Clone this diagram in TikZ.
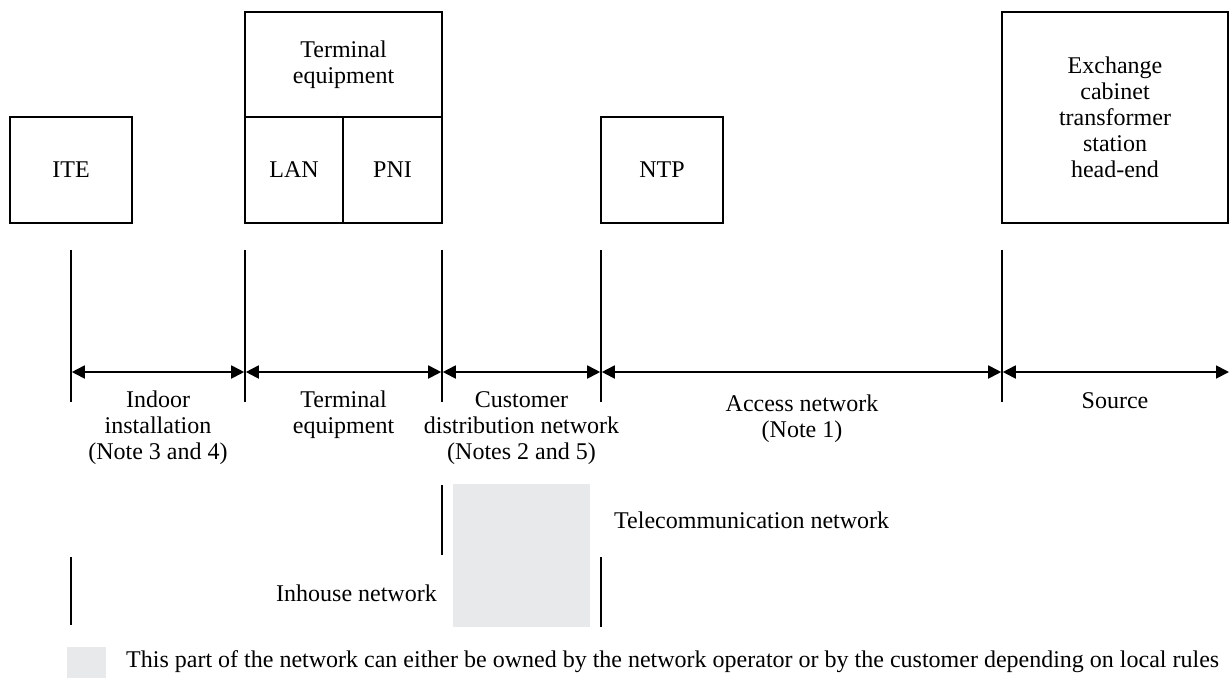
\documentclass[tikz,border=0pt]{standalone}
\usepackage{fontspec}
\setmainfont{Liberation Serif}
\usetikzlibrary{arrows.meta}
\definecolor{greyfill}{HTML}{E8E9EB}
\begin{document}
\begin{tikzpicture}[x=1pt,y=-1pt,
  every node/.style={font=\fontsize{24}{26}\selectfont, inner sep=0pt, align=center},
  box/.style={draw, line width=1.6pt, rectangle},
  sep/.style={line width=1.6pt},
  dimarrow/.style={line width=1.8pt, {Triangle[length=13pt,width=13pt]}-{Triangle[length=13pt,width=13pt]}, shorten <=0.8pt, shorten >=0.8pt}]
\useasboundingbox (0,0) rectangle (1229,678);
% boxes
\node[box, minimum width=122pt, minimum height=106pt] (ite) at (71,170) {ITE};
\node[box, minimum width=197pt, minimum height=105pt] (te) at (343.5,64.5) {Terminal\\equipment};
\node[box, minimum width=98pt, minimum height=106pt] (lan) at (294,170) {LAN};
\node[box, minimum width=99pt, minimum height=106pt] (pni) at (392.5,170) {PNI};
\node[box, minimum width=122pt, minimum height=106pt] (ntp) at (662,170) {NTP};
\node[box, minimum width=226pt, minimum height=211pt] (exch) at (1115,117.5) {Exchange\\cabinet\\transformer\\station\\head-end};
% boundary lines
\foreach \n/\x in {a/71,b/245,c/442,d/601,e/1002}{
  \coordinate (\n top) at (\x,250);
  \coordinate (\n bot) at (\x,402);
  \coordinate (\n mid) at (\x,372);
  \draw[sep] (\n top) -- (\n bot);
}
\coordinate (fmid) at (1229,372);
\draw[dimarrow] (amid) -- (bmid);
\draw[dimarrow] (bmid) -- (cmid);
\draw[dimarrow] (cmid) -- (dmid);
\draw[dimarrow] (dmid) -- (emid);
\draw[dimarrow, shorten >=0pt] (emid) -- (fmid);
% labels
\node (l1) at (158,428) {Indoor\\installation\\(Note 3 and 4)};
\node (l2) at (343.5,415) {Terminal\\equipment};
\node (l3) at (521.5,428) {Customer\\distribution network\\(Notes 2 and 5)};
\node (l4) at (802,419) {Access network\\(Note 1)};
\node (l5) at (1115,401) {Source};
% lower part
\fill[greyfill] (453,484) rectangle (590,627);
\coordinate (g1) at (442,485); \coordinate (g2) at (442,555);
\coordinate (h1) at (71,557); \coordinate (h2) at (71,625);
\coordinate (i1) at (601,557); \coordinate (i2) at (601,627);
\draw[sep] (g1) -- (g2);
\draw[sep] (h1) -- (h2);
\draw[sep] (i1) -- (i2);
\node[anchor=west] (tel) at (614,520) {Telecommunication network};
\node[anchor=east] (inh) at (437,593) {Inhouse network};
% legend
\fill[greyfill] (67,647) rectangle (106,678);
\node[anchor=west] (leg) at (126,662) {This part of the network can either be owned by the network operator or by the customer depending on local rules};
\end{tikzpicture}
\end{document}
